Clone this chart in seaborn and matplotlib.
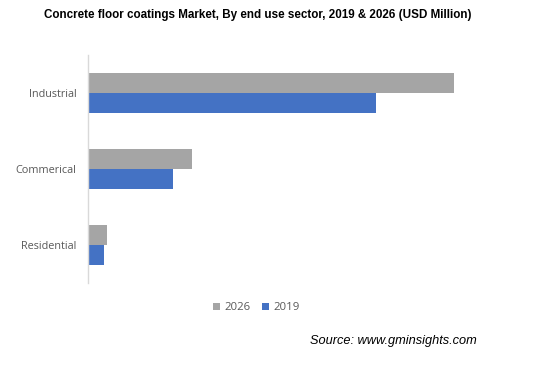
import pandas as pd
import matplotlib
matplotlib.use('Agg')
import matplotlib.pyplot as plt
import seaborn as sns

# Values (USD Million, approximate)
sectors = ['Industrial', 'Commerical', 'Residential']
years = ['2026', '2019']
values_2026 = [1830, 520, 95]
values_2019 = [1440, 425, 80]
colors = {'2026': '#a5a5a5', '2019': '#4472c4'}

df = pd.DataFrame({
    'Sector': sectors * 2,
    'Year': ['2026'] * 3 + ['2019'] * 3,
    'Value': values_2026 + values_2019,
})

sns.set_style('white')
plt.rcParams['font.family'] = ['Liberation Sans', 'DejaVu Sans']

fig = plt.figure(figsize=(5.37, 3.65), dpi=100)
ax = fig.add_axes([0.164, 0.225, 0.736, 0.624])

sns.barplot(data=df, y='Sector', x='Value', hue='Year', order=sectors,
            hue_order=years, palette=colors, orient='h', width=0.526,
            saturation=1, errorbar=None, linewidth=0, ax=ax)

ax.set_xlim(0, 1975)
ax.set_xlabel('')
ax.set_ylabel('')
ax.set_xticks([])
for s in ['top', 'right', 'bottom']:
    ax.spines[s].set_visible(False)
ax.spines['left'].set_color('#d9d9d9')
ax.spines['left'].set_linewidth(1)
ax.tick_params(axis='y', length=0, pad=8.5, labelsize=7.8, labelcolor='#595959')
for lbl in ax.get_yticklabels():
    lbl.set_family(['Open Sans', 'DejaVu Sans'])

ax.legend(loc='center', ncol=2, frameon=False,
          handlelength=0.6, handleheight=0.6, handletextpad=0.4,
          columnspacing=1.0, labelcolor='#595959',
          prop={'family': ['Open Sans', 'DejaVu Sans'], 'size': 8.2})
leg = ax.get_legend()
leg.set_bbox_to_anchor((0.477, 0.157), transform=fig.transFigure)

fig.suptitle('Concrete floor coatings Market, By end use sector, 2019 & 2026 (USD Million)',
             x=0.48, y=0.975, fontsize=8.4, fontweight='bold', color='#000000')
fig.text(0.888, 0.066, 'Source: www.gminsights.com', ha='right', va='center',
         fontsize=9.2, style='italic', color='#000000')

fig.savefig('out.png', dpi=100)
